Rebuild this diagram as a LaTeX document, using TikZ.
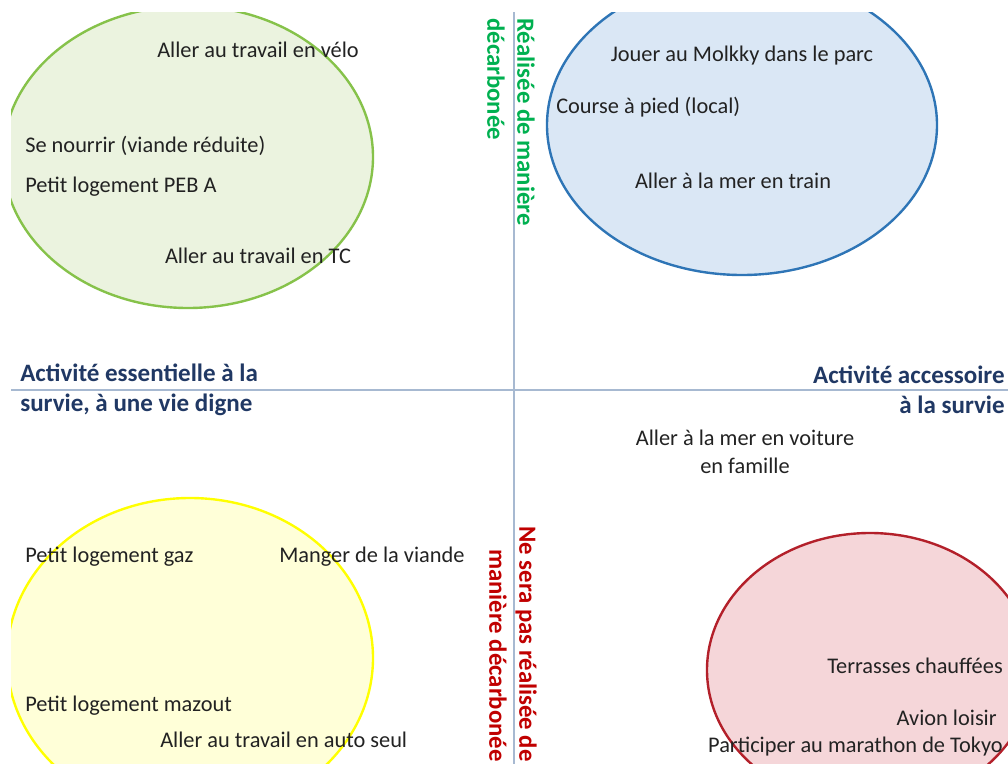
\documentclass[tikz,border=0pt]{standalone}
\usepackage{fontspec}
\setmainfont{Carlito}
\usetikzlibrary{positioning}

\definecolor{axisblue}{HTML}{A7B9D1}
\definecolor{itemgray}{HTML}{222222}
\definecolor{labelblue}{HTML}{203864}
\definecolor{okgreen}{HTML}{00B050}
\definecolor{nored}{HTML}{C00000}
\definecolor{greenline}{HTML}{86C24A}
\definecolor{greenfill}{HTML}{EBF3DF}
\definecolor{blueline}{HTML}{2E75B6}
\definecolor{bluefill}{HTML}{DAE7F5}
\definecolor{yellowline}{HTML}{FFFF00}
\definecolor{yellowfill}{HTML}{FFFFD8}
\definecolor{redline}{HTML}{B3202A}
\definecolor{redfill}{HTML}{F5D6D9}

\begin{document}
\begin{tikzpicture}[
        x=0.025cm,
        y=-0.025cm,
        item/.style={
            font=\fontsize{15.9}{20}\selectfont,
            text=itemgray,
            inner sep=0pt
        },
        axislabel/.style={
            font=\bfseries\fontsize{17.8}{21.3}\selectfont,
            text=labelblue,
            inner sep=0pt
        },
        sidelabel/.style={
            font=\bfseries\fontsize{17.6}{21.3}\selectfont,
            inner sep=0pt,
            rotate=-90
        },
        zone/.style={line width=1.7pt},
        axis/.style={draw=axisblue, line width=1pt}
    ]
        \useasboundingbox (0,0) rectangle (1008,764);

        % Axes ends
        \coordinate (top) at (514,0);
        \coordinate (bottom) at (514,764);
        \coordinate (left) at (0,390);
        \coordinate (right) at (1008,390);

        % Zones and axes (cut at the frame)
        \begin{scope}
            \clip (11,12) rectangle (1008,764);
            \filldraw[zone, draw=greenline, fill=greenfill] (188,157) ellipse [x radius=185, y radius=151];
            \filldraw[zone, draw=blueline, fill=bluefill] (742,125) ellipse [x radius=195, y radius=150];
            \filldraw[zone, draw=yellowline, fill=yellowfill] (190,658) ellipse [x radius=183, y radius=160];
            \filldraw[zone, draw=redline, fill=redfill] (870,670) ellipse [x radius=163, y radius=137];
            \draw[axis] (left) -- (right);
            \draw[axis] (top) -- (bottom);
        \end{scope}

        % Axis labels
        \node (essential) [axislabel, anchor=west, align=left] at (20,390)
            {Activité essentielle à la\\survie, à une vie digne};
        \node (accessory) [axislabel, anchor=east, align=right] at (1005,390)
            {Activité accessoire\\à la survie};
        \node (lowcarbon) [sidelabel, text=okgreen, anchor=west, align=left] at (511,18)
            {Réalisée de manière\\décarbonée};
        \node (highcarbon) [sidelabel, text=nored, anchor=east, align=right] at (513,762)
            {Ne sera pas réalisée de\\manière décarbonée};

        % Essential, low carbon (green)
        \node (bike) [item, anchor=base] at (258,57) {Aller au travail en vélo};
        \node (food) [item, anchor=base west] at (25,152) {Se nourrir (viande réduite)};
        \node (pebA) [item, anchor=base west] at (25,192) {Petit logement PEB A};
        \node (transit) [item, anchor=base] at (258,263) {Aller au travail en TC};

        % Accessory, low carbon (blue)
        \node (molkky) [item, anchor=base] at (742,61) {Jouer au Molkky dans le parc};
        \node (running) [item, anchor=base west] at (556,113) {Course à pied (local)};
        \node (train) [item, anchor=base] at (733,188) {Aller à la mer en train};

        % In between
        \node (car) [item, align=center] at (745,452) {Aller à la mer en voiture\\en famille};

        % Essential, high carbon (yellow)
        \node (gas) [item, anchor=base west] at (25,562) {Petit logement gaz};
        \node (meat) [item, anchor=base west] at (279,562) {Manger de la viande};
        \node (oil) [item, anchor=base west] at (25,711) {Petit logement mazout};
        \node (solo) [item, anchor=base west] at (160,747) {Aller au travail en auto seul};

        % Accessory, high carbon (red)
        \node (terrace) [item, anchor=base east] at (1003,673) {Terrasses chauffées};
        \node (plane) [item, anchor=base east] at (997,725) {Avion loisir};
        \node (tokyo) [item, anchor=base east] at (1003,752) {Participer au marathon de Tokyo};
    \end{tikzpicture}
\end{document}
